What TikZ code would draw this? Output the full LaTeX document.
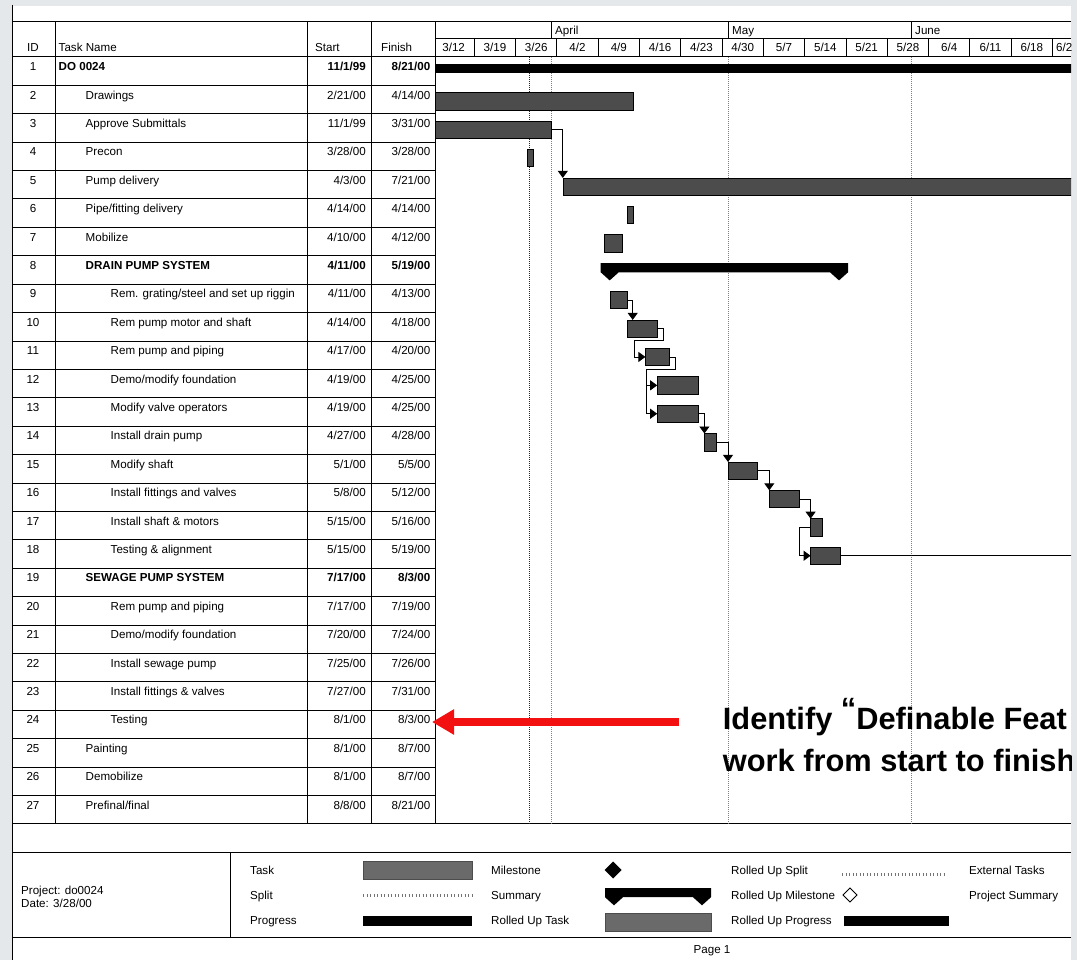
\documentclass[tikz,border=0pt]{standalone}
\usepackage{fontspec}
\setmainfont{Liberation Sans}
\usetikzlibrary{arrows.meta}
\definecolor{bgcol}{HTML}{E4E8EA}
\definecolor{barfill}{HTML}{4C4C4C}
\definecolor{legfill}{HTML}{6A6A6A}
\definecolor{redarr}{HTML}{F21010}
\newcommand{\tf}{\fontsize{11.6}{13}\selectfont}
\newcommand{\annfont}{\fontsize{30.8}{42}\selectfont\bfseries}
\tikzset{
  grid/.style={line width=1pt, black},
  cell/.style={inner sep=0pt, font=\tf},
  taskbar/.style={draw=black, line width=0.6pt, fill=barfill, inner sep=0pt, outer sep=0pt, minimum height=17.3pt, anchor=north west},
  legbar/.style={draw=black!70, line width=0.4pt, fill=legfill, inner sep=0pt, outer sep=0pt, minimum height=18pt, minimum width=109pt, anchor=west},
  link/.style={line width=0.9pt, -{Triangle[length=7pt,width=10pt]}},
  curdate/.style={line width=0.9pt, black!85, dash pattern=on 1pt off 1pt},
  monthdot/.style={line width=0.6pt, black!50, dash pattern=on 1pt off 1pt},
  splitdots/.style={line width=3pt, black!55, dash pattern=on 0.9pt off 2.6pt},
  redarrow/.style={line width=7.3pt, redarr, -{Triangle[length=22pt,width=24pt]}},
  ann/.style={anchor=base west, inner sep=0pt, font=\annfont}
}
% id, indent x, name, start, finish, font command
\newcommand{\taskrow}[6]{%
  \pgfmathsetmacro{\ty}{57+(#1-1)*28.4+13.7}%
  \node[cell, anchor=base] (id#1) at (33,\ty) {#1};%
  \node[cell, anchor=base west] (n#1) at (#2,\ty) {#6{#3}};%
  \node[cell, anchor=base east] (s#1) at (366,\ty) {#6{#4}};%
  \node[cell, anchor=base east] (f#1) at (430.5,\ty) {#6{#5}};%
}
% name, row, x1, x2
\newcommand{\gbar}[4]{%
  \pgfmathsetmacro{\by}{57+(#2-1)*28.4+7.3}%
  \pgfmathsetmacro{\bw}{#4-#3}%
  \node[taskbar, minimum width=\bw pt] (#1) at (#3,\by) {};%
}
% summary shape: x1, x2, top
\newcommand{\summ}[3]{%
  \fill (#1,#3) -- (#2,#3) -- (#2,#3+9.2) -- (#2-9,#3+17.3) -- (#2-18,#3+9.2)
    -- (#1+18,#3+9.2) -- (#1+9,#3+17.3) -- (#1,#3+9.2) -- cycle;%
}
\begin{document}
\begin{tikzpicture}[x=1pt,y=-1pt]
\useasboundingbox (0,0) rectangle (1077,960);
\fill[bgcol] (0,0) rectangle (1077,960);
\fill[white] (11.5,6) rectangle (1071,960);
\begin{scope}
\clip (11,0) rectangle (1071,960);
% ---------- grid ----------
\draw[grid] (12.5,22) -- (1071,22);
\draw[grid] (12.5,57) -- (1071,57);
\draw[grid] (435,39) -- (1071,39);
\foreach \i in {2,...,27} \draw[grid] (12.5,{57+(\i-1)*28.4}) -- (435,{57+(\i-1)*28.4});
\draw[grid] (12.5,823.8) -- (1071,823.8);
\draw[grid] (12.5,852.7) -- (1071,852.7);
\draw[grid] (12.5,937) -- (1071,937);
\foreach \x in {55,307,371,435} \draw[grid] (\x,22) -- (\x,823.8);
\draw[grid] (230,852.7) -- (230,937);
\draw[grid] (12.5,5) -- (12.5,960);
% ---------- timescale ----------
\foreach \x in {551,728,911} \draw[grid] (\x,22) -- (\x,39);
\node[cell, anchor=base west] (mApr) at (555,35) {April};
\node[cell, anchor=base west] (mMay) at (732,35) {May};
\node[cell, anchor=base west] (mJun) at (915,35) {June};
\foreach \k in {1,...,15} \draw[grid] ({433+41.3*\k},39) -- ({433+41.3*\k},57);
\foreach \lab [count=\k] in {3/12,3/19,3/26,4/2,4/9,4/16,4/23,4/30,5/7,5/14,5/21,5/28,6/4,6/11,6/18}
  \node[cell, anchor=base] (wk\k) at ({433+41.3*\k-20.65},51.5) {\lab};
\node[cell, anchor=base west] (wk16) at (1056,51.5) {6/2};
\draw[curdate] (529.5,57) -- (529.5,823.8);
\foreach \x in {551,728,911} \draw[monthdot] (\x,57) -- (\x,823.8);
% ---------- table header ----------
\node[cell, anchor=base] (hID) at (33,51.5) {ID};
\node[cell, anchor=base west] (hName) at (58.5,51.5) {Task Name};
\node[cell, anchor=base west] (hStart) at (315,51.5) {Start};
\node[cell, anchor=base west] (hFinish) at (381,51.5) {Finish};
% ---------- table rows ----------
\taskrow{1}{58.5}{DO 0024}{11/1/99}{8/21/00}{\textbf}
\taskrow{2}{85.5}{Drawings}{2/21/00}{4/14/00}{\textnormal}
\taskrow{3}{85.5}{Approve Submittals}{11/1/99}{3/31/00}{\textnormal}
\taskrow{4}{85.5}{Precon}{3/28/00}{3/28/00}{\textnormal}
\taskrow{5}{85.5}{Pump delivery}{4/3/00}{7/21/00}{\textnormal}
\taskrow{6}{85.5}{Pipe/fitting delivery}{4/14/00}{4/14/00}{\textnormal}
\taskrow{7}{85.5}{Mobilize}{4/10/00}{4/12/00}{\textnormal}
\taskrow{8}{85.5}{DRAIN PUMP SYSTEM}{4/11/00}{5/19/00}{\textbf}
\taskrow{9}{110.5}{Rem. grating/steel and set up riggin}{4/11/00}{4/13/00}{\textnormal}
\taskrow{10}{110.5}{Rem pump motor and shaft}{4/14/00}{4/18/00}{\textnormal}
\taskrow{11}{110.5}{Rem pump and piping}{4/17/00}{4/20/00}{\textnormal}
\taskrow{12}{110.5}{Demo/modify foundation}{4/19/00}{4/25/00}{\textnormal}
\taskrow{13}{110.5}{Modify valve operators}{4/19/00}{4/25/00}{\textnormal}
\taskrow{14}{110.5}{Install drain pump}{4/27/00}{4/28/00}{\textnormal}
\taskrow{15}{110.5}{Modify shaft}{5/1/00}{5/5/00}{\textnormal}
\taskrow{16}{110.5}{Install fittings and valves}{5/8/00}{5/12/00}{\textnormal}
\taskrow{17}{110.5}{Install shaft \& motors}{5/15/00}{5/16/00}{\textnormal}
\taskrow{18}{110.5}{Testing \& alignment}{5/15/00}{5/19/00}{\textnormal}
\taskrow{19}{85.5}{SEWAGE PUMP SYSTEM}{7/17/00}{8/3/00}{\textbf}
\taskrow{20}{110.5}{Rem pump and piping}{7/17/00}{7/19/00}{\textnormal}
\taskrow{21}{110.5}{Demo/modify foundation}{7/20/00}{7/24/00}{\textnormal}
\taskrow{22}{110.5}{Install sewage pump}{7/25/00}{7/26/00}{\textnormal}
\taskrow{23}{110.5}{Install fittings \& valves}{7/27/00}{7/31/00}{\textnormal}
\taskrow{24}{110.5}{Testing}{8/1/00}{8/3/00}{\textnormal}
\taskrow{25}{85.5}{Painting}{8/1/00}{8/7/00}{\textnormal}
\taskrow{26}{85.5}{Demobilize}{8/1/00}{8/7/00}{\textnormal}
\taskrow{27}{85.5}{Prefinal/final}{8/8/00}{8/21/00}{\textnormal}
% ---------- bars ----------
\fill (435,64.3) rectangle (1080,73.5);
\gbar{b2}{2}{435}{633.6}
\gbar{b3}{3}{435}{551}
\gbar{b4}{4}{527.5}{533}
\gbar{b5}{5}{562.8}{1090}
\gbar{b6}{6}{627.5}{633}
\gbar{b7}{7}{604.1}{621.8}
\summ{600.7}{848}{263.1}
\gbar{b9}{9}{610}{627.7}
\gbar{b10}{10}{627.7}{657.2}
\gbar{b11}{11}{645.4}{669}
\gbar{b12}{12}{657.2}{698.5}
\gbar{b13}{13}{657.2}{698.5}
\gbar{b14}{14}{704.4}{716.2}
\gbar{b15}{15}{728}{757.5}
\gbar{b16}{16}{769.3}{798.8}
\gbar{b17}{17}{810.6}{822.4}
\gbar{b18}{18}{810.6}{840.1}
% ---------- links ----------
\draw[link] (b3.east) -| (b5.north west);
\draw[link] (b9.east) -| ([xshift=5pt]b10.north west);
\draw[link] (b10.east) -- ++(6,0) -- ++(0,12) -| ([xshift=-11pt]b11.west) -- (b11.west);
\draw[link] (b11.east) -- ++(6,0) -- ++(0,12) -| ([xshift=-11pt]b12.west) -- (b12.west);
\draw[link] ([xshift=-11pt]b12.west) |- (b13.west);
\draw[link] (b13.east) -| (b14.north west);
\draw[link] (b14.east) -| (b15.north west);
\draw[link] (b15.east) -| (b16.north west);
\draw[link] (b16.east) -| (b17.north west);
\draw[link] (b17.west) -- ++(-11,0) |- (b18.west);
\coordinate (r18end) at (1080,555.8);
\draw[line width=0.8pt] (b18.east) -- (r18end |- b18.east);
% ---------- annotation ----------
\node[ann] (ann1) at (722.7,729.3) {Identify \raisebox{10pt}{“}Definable Feat};
\node[ann] (ann2) at (722.7,771.7) {work from start to finish};
\coordinate (redstart) at (679,722);
\coordinate (redtip) at ([xshift=1.5pt]f24.east);
\draw[redarrow] (redstart) -- (redtip |- redstart);
% ---------- legend ----------
\node[cell, anchor=base west] (proj) at (21,894) {Project: do0024};
\node[cell, anchor=base west] (date) at (21,907) {Date: 3/28/00};
\node[cell, anchor=base west] (lTask) at (250,874) {Task};
\node[cell, anchor=base west] (lSplit) at (250,899) {Split};
\node[cell, anchor=base west] (lProg) at (250,924) {Progress};
\node[legbar] (sTask) at (363,870) {};
\draw[splitdots] (363,895) -- (472,895);
\fill (363,915.5) rectangle (472,925.5);
\node[cell, anchor=base west] (lMile) at (491,874) {Milestone};
\node[cell, anchor=base west] (lSumm) at (491,899) {Summary};
\node[cell, anchor=base west] (lRTask) at (491,924) {Rolled Up Task};
\fill (613,861.5) -- (621.5,870) -- (613,878.5) -- (604.5,870) -- cycle;
\summ{605}{711}{888}
\node[legbar, minimum width=106pt] (sRTask) at (605,922) {};
\node[cell, anchor=base west] (lRSplit) at (731,874) {Rolled Up Split};
\node[cell, anchor=base west] (lRMile) at (731,899) {Rolled Up Milestone};
\node[cell, anchor=base west] (lRProg) at (731,924) {Rolled Up Progress};
\draw[splitdots] (842,874) -- (945,874);
\draw[line width=0.9pt] (850,888) -- (857,895) -- (850,902) -- (843,895) -- cycle;
\fill (844,915.5) rectangle (949,925.5);
\node[cell, anchor=base west] (lExt) at (969,874) {External Tasks};
\node[cell, anchor=base west] (lPSum) at (969,899) {Project Summary};
\node[cell, anchor=base] (page) at (712,953) {Page 1};
\end{scope}
\end{tikzpicture}
\end{document}
